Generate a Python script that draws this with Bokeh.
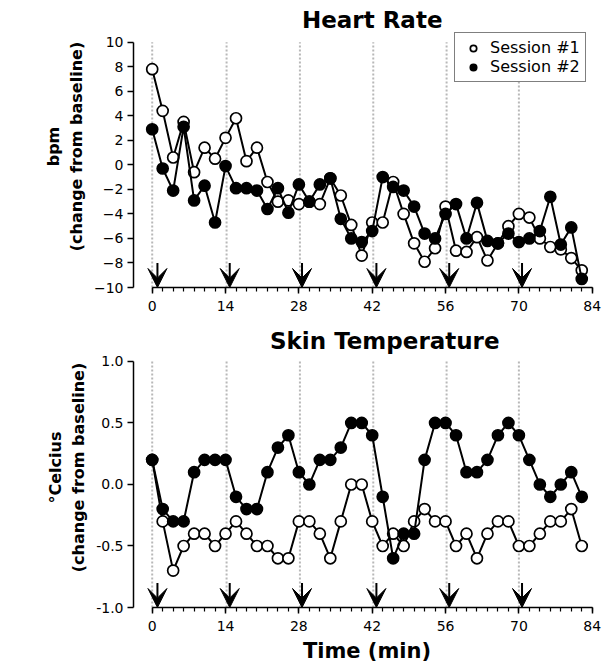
from bokeh.plotting import figure
from bokeh.layouts import column
from bokeh.models import (Range1d, FixedTicker, Legend, LegendItem, Arrow, VeeHead,
                          Label, NumeralTickFormatter, BasicTickFormatter)
from bokeh.embed import file_html
from bokeh.resources import INLINE

# ---------------- data ----------------
time_min = [0, 2, 4, 6, 8, 10, 12, 14, 16, 18, 20, 22, 24, 26, 28, 30, 32, 34, 36, 38, 40,
            42, 44, 46, 48, 50, 52, 54, 56, 58, 60, 62, 64, 66, 68, 70, 72, 74, 76, 78, 80, 82]

hr_session1 = [7.8, 4.4, 0.6, 3.5, -0.6, 1.4, 0.5, 2.2, 3.8, 0.3, 1.4, -1.4, -3.0, -2.9, -3.2,
               -3.0, -3.2, -1.1, -2.5, -4.9, -7.4, -4.7, -4.7, -1.4, -4.0, -6.4, -7.9, -6.8,
               -3.4, -7.0, -7.1, -5.9, -7.8, -6.4, -5.0, -4.0, -4.3, -6.0, -6.7, -6.9, -7.6, -8.6]
hr_session2 = [2.9, -0.3, -2.1, 3.1, -2.9, -1.7, -4.7, -0.1, -1.9, -1.9, -2.1, -3.6, -1.9, -3.9,
               -1.6, -3.0, -1.6, -1.1, -4.4, -6.0, -6.3, -5.4, -1.0, -1.8, -2.1, -3.4, -5.6, -6.0,
               -4.0, -3.2, -6.0, -3.1, -6.2, -6.4, -5.6, -6.3, -6.0, -5.4, -2.6, -6.5, -5.1, -9.3]

skin_session1 = [0.2, -0.3, -0.7, -0.5, -0.4, -0.4, -0.5, -0.4, -0.3, -0.4, -0.5, -0.5, -0.6, -0.6,
                 -0.3, -0.3, -0.4, -0.6, -0.3, 0.0, 0.0, -0.3, -0.5, -0.4, -0.5, -0.3, -0.2, -0.3,
                 -0.3, -0.5, -0.4, -0.6, -0.4, -0.3, -0.3, -0.5, -0.5, -0.4, -0.3, -0.3, -0.2, -0.5]
skin_session2 = [0.2, -0.2, -0.3, -0.3, 0.1, 0.2, 0.2, 0.2, -0.1, -0.2, -0.2, 0.1, 0.3, 0.4,
                 0.1, 0.0, 0.2, 0.2, 0.3, 0.5, 0.5, 0.4, -0.1, -0.6, -0.4, -0.4, 0.2, 0.5,
                 0.5, 0.4, 0.1, 0.1, 0.2, 0.4, 0.5, 0.4, 0.2, 0.0, -0.1, 0.0, 0.1, -0.1]

block_starts = [0, 14.2, 28.2, 42.2, 56.2, 70]        # grey dotted lines
event_times = [1, 14.8, 28.6, 42.8, 56.7, 70.6]       # arrows
x_ticks = [0, 14, 28, 42, 56, 70, 84]
x_minor = list(range(0, 85, 2))
hr_ticks = [-10, -8, -6, -4, -2, 0, 2, 4, 6, 8, 10]
skin_ticks = [-1.0, -0.5, 0.0, 0.5, 1.0]
series_labels = ["Session #1", "Session #2"]

FONT = "DejaVu Sans"
INK = "black"
X0, X1 = -3.57, 85.58


def make_panel(h, y_lo, y_hi, y_top, ticks, fmt, ylabel, title, title_x, title_y,
               s1, s2, xlabel, mb_bottom, legend_loc=None):
    p = figure(width=614, height=h, x_range=Range1d(X0, X1), y_range=Range1d(y_lo, y_top),
               output_backend="svg", toolbar_location=None,
               min_border_left=133, min_border_right=14, min_border_top=5,
               min_border_bottom=mb_bottom)
    p.outline_line_color = None
    p.grid.visible = False
    p.background_fill_color = "white"
    p.border_fill_color = "white"

    n = len(block_starts)
    p.segment(x0=block_starts, y0=[y_lo] * n, x1=block_starts, y1=[y_hi] * n,
              line_color="#b8b8b8", line_dash="2 2", line_width=2)

    p.line(time_min, s1, line_color=INK, line_width=2)
    c1 = p.scatter(time_min, s1, marker="circle", size=11, fill_color="white",
                   line_color=INK, line_width=1.7)
    p.line(time_min, s2, line_color=INK, line_width=2)
    c2 = p.scatter(time_min, s2, marker="circle", size=11, fill_color=INK,
                   line_color=INK, line_width=1.7)

    y_arrow = y_lo + 0.1 * (y_hi - y_lo)
    for t in event_times:
        p.add_layout(Arrow(end=VeeHead(size=19, fill_color=INK, line_color=INK,
                                       line_width=1),
                           x_start=t, y_start=y_arrow, x_end=t, y_end=y_lo,
                           line_color=INK, line_width=2))

    p.add_layout(Label(x=title_x, y=title_y, text=title, text_font=FONT,
                       text_font_style="bold", text_font_size="23px", text_color=INK,
                       text_align="center", text_baseline="middle"))

    xa = p.xaxis[0]
    xa.bounds = (0, 84)
    xa.ticker = FixedTicker(ticks=x_ticks, minor_ticks=x_minor)
    xa.major_tick_out = 6
    xa.major_tick_in = 0
    xa.minor_tick_out = 4
    xa.minor_tick_in = 0
    xa.axis_line_width = 1.5
    xa.axis_line_color = INK
    xa.major_tick_line_width = 1.5
    xa.minor_tick_line_width = 1.2
    xa.major_label_text_font = FONT
    xa.major_label_text_font_size = "14px"
    xa.major_label_text_color = INK
    xa.major_label_standoff = 7
    if xlabel:
        xa.axis_label = xlabel
        xa.axis_label_text_font = FONT
        xa.axis_label_text_font_style = "bold"
        xa.axis_label_text_font_size = "21px"
        xa.axis_label_text_color = INK
        xa.axis_label_standoff = 5

    ya = p.yaxis[0]
    ya.bounds = (y_lo, y_hi)
    ya.ticker = FixedTicker(ticks=ticks, minor_ticks=[])
    ya.formatter = fmt
    ya.major_tick_out = 6
    ya.major_tick_in = 0
    ya.axis_line_width = 1.5
    ya.axis_line_color = INK
    ya.major_tick_line_width = 1.5
    ya.major_label_text_font = FONT
    ya.major_label_text_font_size = "14px"
    ya.major_label_text_color = INK
    ya.major_label_standoff = 4
    ya.axis_label = ylabel
    ya.axis_label_text_font = FONT
    ya.axis_label_text_font_style = "bold"
    ya.axis_label_text_font_size = "16px"
    ya.axis_label_text_color = INK
    ya.axis_label_standoff = 5

    if legend_loc is not None:
        leg = Legend(items=[LegendItem(label=series_labels[0], renderers=[c1]),
                            LegendItem(label=series_labels[1], renderers=[c2])],
                     location=legend_loc, orientation="vertical",
                     border_line_color=INK, border_line_width=1.5,
                     background_fill_color="white", background_fill_alpha=1,
                     padding=5, spacing=0, margin=0, glyph_width=26, glyph_height=16,
                     label_height=16, label_standoff=4,
                     label_text_font=FONT, label_text_font_size="16px",
                     label_text_color=INK)
        p.add_layout(leg)
    return p


top = make_panel(322, -10, 10, 12.99, hr_ticks, BasicTickFormatter(),
                 "bpm\n(change from baseline)", "Heart Rate", 42, 11.77,
                 hr_session1, hr_session2, None, 35, legend_loc=(321, 205))
bottom = make_panel(345, -1.0, 1.0, 1.276, skin_ticks, NumeralTickFormatter(format="0.0"),
                    "\u00b0Celcius\n(change from baseline)", "Skin Temperature", 44.4, 1.163,
                    skin_session1, skin_session2, "Time (min)", 60)

layout = column(top, bottom, spacing=0)
open("out.html", "w").write(file_html(layout, INLINE))
